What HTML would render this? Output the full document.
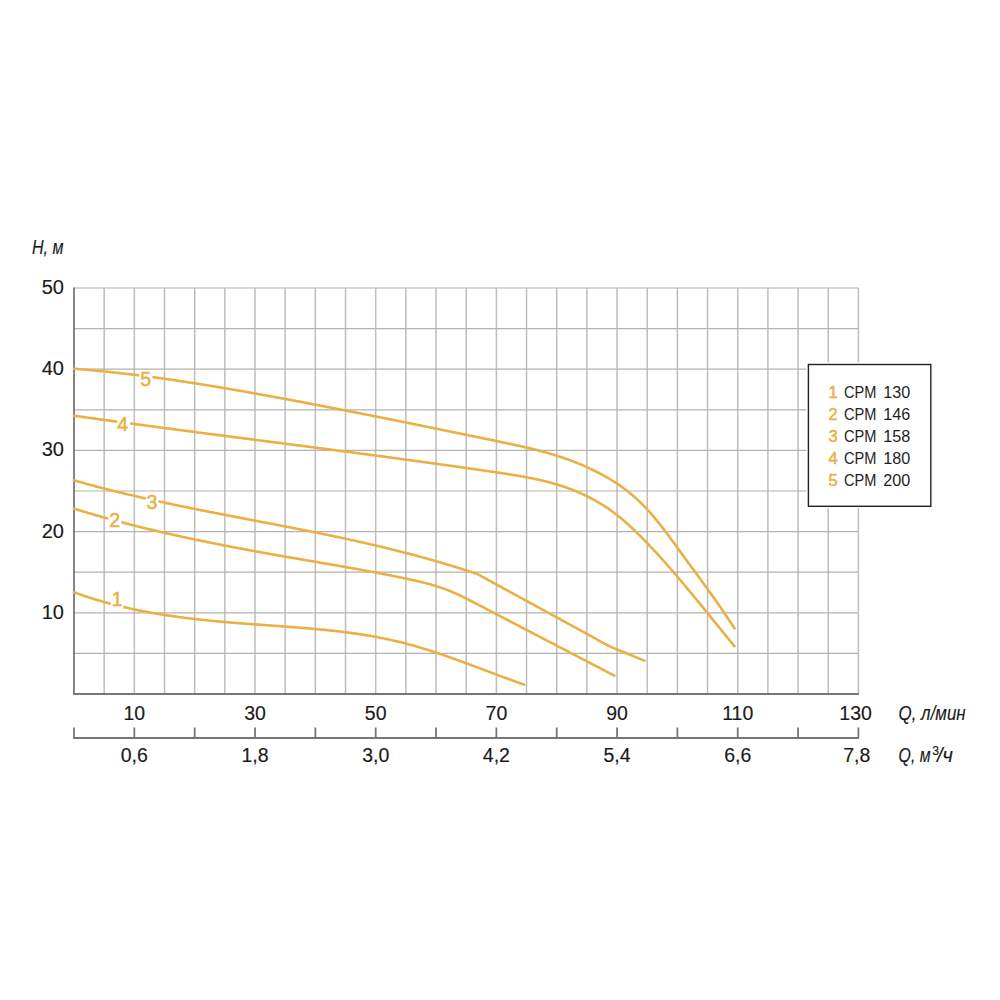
<!DOCTYPE html>
<html><head><meta charset="utf-8"><style>
html,body{margin:0;padding:0;background:#fff;}
svg{display:block;}
text{font-family:"Liberation Sans",Arial,sans-serif;fill:#1a1a1a;stroke:#1a1a1a;stroke-width:0.15px;}
.o{fill:#ebb045;stroke:#ebb045;stroke-width:0.55px;font-weight:normal;}
.lg text{stroke:none;fill:#1e1e1e;}
.lg text.o{fill:#ebb045;stroke:#ebb045;stroke-width:0.5px;}
</style></head><body>
<svg width="1000" height="1000" viewBox="0 0 1000 1000">
<rect width="1000" height="1000" fill="#fff"/>
<g stroke="#bdbdbd" stroke-width="1.5" fill="none">
<line x1="104.17" y1="288.0" x2="104.17" y2="694.0"/><line x1="134.34" y1="288.0" x2="134.34" y2="694.0"/><line x1="164.51" y1="288.0" x2="164.51" y2="694.0"/><line x1="194.68" y1="288.0" x2="194.68" y2="694.0"/><line x1="224.85" y1="288.0" x2="224.85" y2="694.0"/><line x1="255.02" y1="288.0" x2="255.02" y2="694.0"/><line x1="285.18" y1="288.0" x2="285.18" y2="694.0"/><line x1="315.35" y1="288.0" x2="315.35" y2="694.0"/><line x1="345.52" y1="288.0" x2="345.52" y2="694.0"/><line x1="375.69" y1="288.0" x2="375.69" y2="694.0"/><line x1="405.86" y1="288.0" x2="405.86" y2="694.0"/><line x1="436.03" y1="288.0" x2="436.03" y2="694.0"/><line x1="466.20" y1="288.0" x2="466.20" y2="694.0"/><line x1="496.37" y1="288.0" x2="496.37" y2="694.0"/><line x1="526.54" y1="288.0" x2="526.54" y2="694.0"/><line x1="556.71" y1="288.0" x2="556.71" y2="694.0"/><line x1="586.88" y1="288.0" x2="586.88" y2="694.0"/><line x1="617.05" y1="288.0" x2="617.05" y2="694.0"/><line x1="647.22" y1="288.0" x2="647.22" y2="694.0"/><line x1="677.38" y1="288.0" x2="677.38" y2="694.0"/><line x1="707.55" y1="288.0" x2="707.55" y2="694.0"/><line x1="737.72" y1="288.0" x2="737.72" y2="694.0"/><line x1="767.89" y1="288.0" x2="767.89" y2="694.0"/><line x1="798.06" y1="288.0" x2="798.06" y2="694.0"/><line x1="828.23" y1="288.0" x2="828.23" y2="694.0"/><line x1="858.40" y1="288.0" x2="858.40" y2="694.0"/>
</g>
<g stroke="#b2b2b2" stroke-width="1.2" fill="none">
<line x1="74.0" y1="653.40" x2="858.4" y2="653.40"/><line x1="74.0" y1="612.80" x2="858.4" y2="612.80"/><line x1="74.0" y1="572.20" x2="858.4" y2="572.20"/><line x1="74.0" y1="531.60" x2="858.4" y2="531.60"/><line x1="74.0" y1="491.00" x2="858.4" y2="491.00"/><line x1="74.0" y1="450.40" x2="858.4" y2="450.40"/><line x1="74.0" y1="409.80" x2="858.4" y2="409.80"/><line x1="74.0" y1="369.20" x2="858.4" y2="369.20"/><line x1="74.0" y1="328.60" x2="858.4" y2="328.60"/><line x1="74.0" y1="288.00" x2="858.4" y2="288.00"/>
</g>
<g stroke="#767676" stroke-width="1.8" fill="none">
<line x1="74.0" y1="287.5" x2="74.0" y2="694.9"/>
<line x1="73.1" y1="694.0" x2="858.9" y2="694.0"/>
<line x1="73.1" y1="738" x2="858.9" y2="738"/>
<line x1="74.00" y1="727.5" x2="74.00" y2="738"/><line x1="134.34" y1="727.5" x2="134.34" y2="738"/><line x1="194.68" y1="727.5" x2="194.68" y2="738"/><line x1="255.02" y1="727.5" x2="255.02" y2="738"/><line x1="315.35" y1="727.5" x2="315.35" y2="738"/><line x1="375.69" y1="727.5" x2="375.69" y2="738"/><line x1="436.03" y1="727.5" x2="436.03" y2="738"/><line x1="496.37" y1="727.5" x2="496.37" y2="738"/><line x1="556.71" y1="727.5" x2="556.71" y2="738"/><line x1="617.05" y1="727.5" x2="617.05" y2="738"/><line x1="677.38" y1="727.5" x2="677.38" y2="738"/><line x1="737.72" y1="727.5" x2="737.72" y2="738"/><line x1="798.06" y1="727.5" x2="798.06" y2="738"/><line x1="858.40" y1="727.5" x2="858.40" y2="738"/>
</g>
<g stroke="#ebb045" stroke-width="2.6" fill="none" stroke-linecap="round" stroke-linejoin="round">
<path d="M74.0,368.70 L75.0,368.78 L76.0,368.86 L77.0,368.94 L78.0,369.02 L79.0,369.10 L80.0,369.18 L81.0,369.27 L82.0,369.35 L83.0,369.43 L84.0,369.52 L85.0,369.61 L86.0,369.69 L87.0,369.78 L88.0,369.87 L89.0,369.96 L90.0,370.05 L91.0,370.14 L92.0,370.23 L93.0,370.32 L94.0,370.42 L95.0,370.51 L96.0,370.61 L97.0,370.70 L98.0,370.80 L99.0,370.90 L100.0,370.99 L101.0,371.09 L102.0,371.19 L103.0,371.29 L104.0,371.39 L105.0,371.50 L106.0,371.60 L107.0,371.70 L108.0,371.81 L109.0,371.91 L110.0,372.02 L111.0,372.12 L112.0,372.23 L113.0,372.34 L114.0,372.45 L115.0,372.56 L116.0,372.67 L117.0,372.78 L118.0,372.89 L119.0,373.00 L120.0,373.11 L121.0,373.23 L122.0,373.34 L123.0,373.45 L124.0,373.57 L125.0,373.69 L126.0,373.80 L127.0,373.92 L128.0,374.04 L129.0,374.16 L130.0,374.28 L131.0,374.40 L132.0,374.52 L133.0,374.64 L134.0,374.76 L135.0,374.89 L136.0,375.01 L137.0,375.13 L138.0,375.26 L139.0,375.38 L140.0,375.51 L141.0,375.64 L142.0,375.76 L143.0,375.89 L144.0,376.02 L145.0,376.15 L146.0,376.28 L147.0,376.41 L148.0,376.54 L149.0,376.67 L150.0,376.81 L151.0,376.94 L152.0,377.07 L153.0,377.21 L154.0,377.34 L155.0,377.48 L156.0,377.61 L157.0,377.75 L158.0,377.89 L159.0,378.02 L160.0,378.16 L161.0,378.30 L162.0,378.44 L163.0,378.58 L164.0,378.72 L165.0,378.86 L166.0,379.00 L167.0,379.15 L168.0,379.29 L169.0,379.43 L170.0,379.57 L171.0,379.72 L172.0,379.86 L173.0,380.01 L174.0,380.16 L175.0,380.30 L176.0,380.45 L177.0,380.60 L178.0,380.75 L179.0,380.89 L180.0,381.04 L181.0,381.19 L182.0,381.34 L183.0,381.49 L184.0,381.64 L185.0,381.80 L186.0,381.95 L187.0,382.10 L188.0,382.25 L189.0,382.41 L190.0,382.56 L191.0,382.72 L192.0,382.87 L193.0,383.03 L194.0,383.18 L195.0,383.34 L196.0,383.50 L197.0,383.65 L198.0,383.81 L199.0,383.97 L200.0,384.13 L201.0,384.29 L202.0,384.45 L203.0,384.61 L204.0,384.77 L205.0,384.93 L206.0,385.09 L207.0,385.25 L208.0,385.42 L209.0,385.58 L210.0,385.74 L211.0,385.91 L212.0,386.07 L213.0,386.23 L214.0,386.40 L215.0,386.56 L216.0,386.73 L217.0,386.90 L218.0,387.06 L219.0,387.23 L220.0,387.40 L221.0,387.56 L222.0,387.73 L223.0,387.90 L224.0,388.07 L225.0,388.24 L226.0,388.41 L227.0,388.58 L228.0,388.75 L229.0,388.92 L230.0,389.09 L231.0,389.26 L232.0,389.43 L233.0,389.60 L234.0,389.78 L235.0,389.95 L236.0,390.12 L237.0,390.29 L238.0,390.47 L239.0,390.64 L240.0,390.82 L241.0,390.99 L242.0,391.17 L243.0,391.34 L244.0,391.52 L245.0,391.69 L246.0,391.87 L247.0,392.05 L248.0,392.22 L249.0,392.40 L250.0,392.58 L251.0,392.75 L252.0,392.93 L253.0,393.11 L254.0,393.29 L255.0,393.47 L256.0,393.65 L257.0,393.83 L258.0,394.01 L259.0,394.19 L260.0,394.37 L261.0,394.55 L262.0,394.73 L263.0,394.91 L264.0,395.09 L265.0,395.27 L266.0,395.45 L267.0,395.64 L268.0,395.82 L269.0,396.00 L270.0,396.18 L271.0,396.37 L272.0,396.55 L273.0,396.73 L274.0,396.92 L275.0,397.10 L276.0,397.28 L277.0,397.47 L278.0,397.65 L279.0,397.84 L280.0,398.02 L281.0,398.21 L282.0,398.39 L283.0,398.58 L284.0,398.76 L285.0,398.95 L286.0,399.14 L287.0,399.32 L288.0,399.51 L289.0,399.69 L290.0,399.88 L291.0,400.07 L292.0,400.26 L293.0,400.44 L294.0,400.63 L295.0,400.82 L296.0,401.01 L297.0,401.19 L298.0,401.38 L299.0,401.57 L300.0,401.76 L301.0,401.95 L302.0,402.14 L303.0,402.32 L304.0,402.51 L305.0,402.70 L306.0,402.89 L307.0,403.08 L308.0,403.27 L309.0,403.46 L310.0,403.65 L311.0,403.84 L312.0,404.03 L313.0,404.22 L314.0,404.41 L315.0,404.61 L316.0,404.80 L317.0,404.99 L318.0,405.18 L319.0,405.37 L320.0,405.56 L321.0,405.75 L322.0,405.95 L323.0,406.14 L324.0,406.33 L325.0,406.52 L326.0,406.72 L327.0,406.91 L328.0,407.10 L329.0,407.29 L330.0,407.49 L331.0,407.68 L332.0,407.87 L333.0,408.07 L334.0,408.26 L335.0,408.46 L336.0,408.65 L337.0,408.84 L338.0,409.04 L339.0,409.23 L340.0,409.43 L341.0,409.62 L342.0,409.82 L343.0,410.01 L344.0,410.21 L345.0,410.40 L346.0,410.60 L347.0,410.79 L348.0,410.99 L349.0,411.19 L350.0,411.38 L351.0,411.58 L352.0,411.77 L353.0,411.97 L354.0,412.17 L355.0,412.36 L356.0,412.56 L357.0,412.76 L358.0,412.95 L359.0,413.15 L360.0,413.35 L361.0,413.55 L362.0,413.74 L363.0,413.94 L364.0,414.14 L365.0,414.34 L366.0,414.54 L367.0,414.73 L368.0,414.93 L369.0,415.13 L370.0,415.33 L371.0,415.53 L372.0,415.73 L373.0,415.92 L374.0,416.12 L375.0,416.32 L376.0,416.52 L377.0,416.72 L378.0,416.92 L379.0,417.12 L380.0,417.32 L381.0,417.52 L382.0,417.72 L383.0,417.92 L384.0,418.12 L385.0,418.32 L386.0,418.52 L387.0,418.72 L388.0,418.92 L389.0,419.12 L390.0,419.32 L391.0,419.52 L392.0,419.72 L393.0,419.92 L394.0,420.12 L395.0,420.32 L396.0,420.53 L397.0,420.73 L398.0,420.93 L399.0,421.13 L400.0,421.33 L401.0,421.53 L402.0,421.73 L403.0,421.94 L404.0,422.14 L405.0,422.34 L406.0,422.54 L407.0,422.74 L408.0,422.95 L409.0,423.15 L410.0,423.35 L411.0,423.55 L412.0,423.76 L413.0,423.96 L414.0,424.16 L415.0,424.36 L416.0,424.57 L417.0,424.77 L418.0,424.97 L419.0,425.17 L420.0,425.38 L421.0,425.58 L422.0,425.78 L423.0,425.99 L424.0,426.19 L425.0,426.39 L426.0,426.60 L427.0,426.80 L428.0,427.01 L429.0,427.21 L430.0,427.41 L431.0,427.62 L432.0,427.82 L433.0,428.02 L434.0,428.23 L435.0,428.43 L436.0,428.64 L437.0,428.84 L438.0,429.05 L439.0,429.25 L440.0,429.45 L441.0,429.66 L442.0,429.86 L443.0,430.07 L444.0,430.27 L445.0,430.48 L446.0,430.68 L447.0,430.89 L448.0,431.09 L449.0,431.30 L450.0,431.50 L451.0,431.71 L452.0,431.91 L453.0,432.12 L454.0,432.32 L455.0,432.53 L456.0,432.73 L457.0,432.94 L458.0,433.14 L459.0,433.35 L460.0,433.55 L461.0,433.76 L462.0,433.96 L463.0,434.17 L464.0,434.38 L465.0,434.58 L466.0,434.79 L467.0,434.99 L468.0,435.20 L469.0,435.40 L470.0,435.61 L471.0,435.82 L472.0,436.02 L473.0,436.23 L474.0,436.43 L475.0,436.64 L476.0,436.85 L477.0,437.05 L478.0,437.26 L479.0,437.46 L480.0,437.67 L481.0,437.88 L482.0,438.08 L483.0,438.29 L484.0,438.49 L485.0,438.70 L486.0,438.91 L487.0,439.11 L488.0,439.32 L489.0,439.52 L490.0,439.73 L491.0,439.94 L492.0,440.14 L493.0,440.35 L494.0,440.56 L495.0,440.76 L496.0,440.97 L497.0,441.18 L498.0,441.38 L499.0,441.59 L500.0,441.79 L501.0,442.00 L502.0,442.21 L503.0,442.42 L504.0,442.62 L505.0,442.83 L506.0,443.04 L507.0,443.25 L508.0,443.46 L509.0,443.67 L510.0,443.88 L511.0,444.10 L512.0,444.31 L513.0,444.52 L514.0,444.74 L515.0,444.96 L516.0,445.17 L517.0,445.39 L518.0,445.61 L519.0,445.83 L520.0,446.05 L521.0,446.28 L522.0,446.50 L523.0,446.73 L524.0,446.96 L525.0,447.19 L526.0,447.42 L527.0,447.66 L528.0,447.89 L529.0,448.13 L530.0,448.37 L531.0,448.61 L532.0,448.85 L533.0,449.10 L534.0,449.35 L535.0,449.60 L536.0,449.85 L537.0,450.10 L538.0,450.36 L539.0,450.62 L540.0,450.88 L541.0,451.15 L542.0,451.41 L543.0,451.68 L544.0,451.96 L545.0,452.23 L546.0,452.51 L547.0,452.79 L548.0,453.08 L549.0,453.37 L550.0,453.66 L551.0,453.95 L552.0,454.25 L553.0,454.55 L554.0,454.85 L555.0,455.16 L556.0,455.47 L557.0,455.79 L558.0,456.11 L559.0,456.43 L560.0,456.75 L561.0,457.08 L562.0,457.42 L563.0,457.75 L564.0,458.10 L565.0,458.44 L566.0,458.79 L567.0,459.14 L568.0,459.50 L569.0,459.86 L570.0,460.23 L571.0,460.60 L572.0,460.98 L573.0,461.36 L574.0,461.74 L575.0,462.13 L576.0,462.52 L577.0,462.92 L578.0,463.33 L579.0,463.74 L580.0,464.15 L581.0,464.57 L582.0,464.99 L583.0,465.42 L584.0,465.85 L585.0,466.29 L586.0,466.73 L587.0,467.18 L588.0,467.64 L589.0,468.10 L590.0,468.57 L591.0,469.04 L592.0,469.51 L593.0,470.00 L594.0,470.48 L595.0,470.98 L596.0,471.48 L597.0,471.99 L598.0,472.50 L599.0,473.02 L600.0,473.54 L601.0,474.07 L602.0,474.61 L603.0,475.15 L604.0,475.70 L605.0,476.26 L606.0,476.82 L607.0,477.40 L608.0,477.98 L609.0,478.56 L610.0,479.16 L611.0,479.76 L612.0,480.38 L613.0,481.00 L614.0,481.63 L615.0,482.27 L616.0,482.92 L617.0,483.58 L618.0,484.25 L619.0,484.93 L620.0,485.62 L621.0,486.32 L622.0,487.04 L623.0,487.76 L624.0,488.50 L625.0,489.24 L626.0,490.00 L627.0,490.78 L628.0,491.56 L629.0,492.36 L630.0,493.17 L631.0,493.99 L632.0,494.83 L633.0,495.68 L634.0,496.55 L635.0,497.43 L636.0,498.32 L637.0,499.23 L638.0,500.16 L639.0,501.10 L640.0,502.05 L641.0,503.02 L642.0,504.01 L643.0,505.01 L644.0,506.03 L645.0,507.07 L646.0,508.12 L647.0,509.19 L648.0,510.28 L649.0,511.38 L650.0,512.50 L651.0,513.64 L652.0,514.79 L653.0,515.96 L654.0,517.14 L655.0,518.34 L656.0,519.55 L657.0,520.77 L658.0,522.00 L659.0,523.25 L660.0,524.50 L661.0,525.77 L662.0,527.05 L663.0,528.34 L664.0,529.64 L665.0,530.94 L666.0,532.26 L667.0,533.58 L668.0,534.91 L669.0,536.25 L670.0,537.59 L671.0,538.94 L672.0,540.30 L673.0,541.66 L674.0,543.02 L675.0,544.39 L676.0,545.76 L677.0,547.13 L678.0,548.51 L679.0,549.89 L680.0,551.27 L681.0,552.65 L682.0,554.03 L683.0,555.41 L684.0,556.79 L685.0,558.17 L686.0,559.55 L687.0,560.93 L688.0,562.30 L689.0,563.67 L690.0,565.04 L691.0,566.41 L692.0,567.77 L693.0,569.14 L694.0,570.50 L695.0,571.87 L696.0,573.23 L697.0,574.60 L698.0,575.96 L699.0,577.33 L700.0,578.69 L701.0,580.06 L702.0,581.43 L703.0,582.80 L704.0,584.17 L705.0,585.55 L706.0,586.92 L707.0,588.30 L708.0,589.69 L709.0,591.07 L710.0,592.46 L711.0,593.86 L712.0,595.26 L713.0,596.66 L714.0,598.07 L715.0,599.48 L716.0,600.90 L717.0,602.32 L718.0,603.75 L719.0,605.18 L720.0,606.62 L721.0,608.07 L722.0,609.53 L723.0,610.99 L724.0,612.46 L725.0,613.94 L726.0,615.42 L727.0,616.92 L728.0,618.42 L729.0,619.93 L730.0,621.45 L731.0,622.98 L732.0,624.52 L733.0,626.07 L734.0,627.63 L734.5,628.41"/><path d="M74.0,415.75 L75.0,415.89 L76.0,416.03 L77.0,416.17 L78.0,416.31 L79.0,416.45 L80.0,416.58 L81.0,416.72 L82.0,416.86 L83.0,417.00 L84.0,417.14 L85.0,417.28 L86.0,417.42 L87.0,417.56 L88.0,417.70 L89.0,417.84 L90.0,417.97 L91.0,418.11 L92.0,418.25 L93.0,418.39 L94.0,418.53 L95.0,418.66 L96.0,418.80 L97.0,418.94 L98.0,419.08 L99.0,419.21 L100.0,419.35 L101.0,419.49 L102.0,419.63 L103.0,419.76 L104.0,419.90 L105.0,420.04 L106.0,420.17 L107.0,420.31 L108.0,420.45 L109.0,420.58 L110.0,420.72 L111.0,420.86 L112.0,420.99 L113.0,421.13 L114.0,421.26 L115.0,421.40 L116.0,421.54 L117.0,421.67 L118.0,421.81 L119.0,421.94 L120.0,422.08 L121.0,422.21 L122.0,422.35 L123.0,422.48 L124.0,422.62 L125.0,422.75 L126.0,422.89 L127.0,423.02 L128.0,423.16 L129.0,423.29 L130.0,423.43 L131.0,423.56 L132.0,423.70 L133.0,423.83 L134.0,423.96 L135.0,424.10 L136.0,424.23 L137.0,424.37 L138.0,424.50 L139.0,424.63 L140.0,424.77 L141.0,424.90 L142.0,425.03 L143.0,425.17 L144.0,425.30 L145.0,425.44 L146.0,425.57 L147.0,425.70 L148.0,425.83 L149.0,425.97 L150.0,426.10 L151.0,426.23 L152.0,426.37 L153.0,426.50 L154.0,426.63 L155.0,426.76 L156.0,426.90 L157.0,427.03 L158.0,427.16 L159.0,427.29 L160.0,427.43 L161.0,427.56 L162.0,427.69 L163.0,427.82 L164.0,427.96 L165.0,428.09 L166.0,428.22 L167.0,428.35 L168.0,428.48 L169.0,428.62 L170.0,428.75 L171.0,428.88 L172.0,429.01 L173.0,429.14 L174.0,429.27 L175.0,429.41 L176.0,429.54 L177.0,429.67 L178.0,429.80 L179.0,429.93 L180.0,430.06 L181.0,430.19 L182.0,430.32 L183.0,430.45 L184.0,430.59 L185.0,430.72 L186.0,430.85 L187.0,430.98 L188.0,431.11 L189.0,431.24 L190.0,431.37 L191.0,431.50 L192.0,431.63 L193.0,431.76 L194.0,431.89 L195.0,432.02 L196.0,432.15 L197.0,432.28 L198.0,432.42 L199.0,432.55 L200.0,432.68 L201.0,432.81 L202.0,432.94 L203.0,433.07 L204.0,433.20 L205.0,433.33 L206.0,433.46 L207.0,433.59 L208.0,433.72 L209.0,433.85 L210.0,433.98 L211.0,434.11 L212.0,434.24 L213.0,434.37 L214.0,434.50 L215.0,434.63 L216.0,434.76 L217.0,434.89 L218.0,435.02 L219.0,435.14 L220.0,435.27 L221.0,435.40 L222.0,435.53 L223.0,435.66 L224.0,435.79 L225.0,435.92 L226.0,436.05 L227.0,436.18 L228.0,436.31 L229.0,436.44 L230.0,436.57 L231.0,436.70 L232.0,436.83 L233.0,436.96 L234.0,437.09 L235.0,437.22 L236.0,437.35 L237.0,437.48 L238.0,437.60 L239.0,437.73 L240.0,437.86 L241.0,437.99 L242.0,438.12 L243.0,438.25 L244.0,438.38 L245.0,438.51 L246.0,438.64 L247.0,438.77 L248.0,438.90 L249.0,439.03 L250.0,439.16 L251.0,439.28 L252.0,439.41 L253.0,439.54 L254.0,439.67 L255.0,439.80 L256.0,439.93 L257.0,440.06 L258.0,440.19 L259.0,440.32 L260.0,440.45 L261.0,440.58 L262.0,440.71 L263.0,440.83 L264.0,440.96 L265.0,441.09 L266.0,441.22 L267.0,441.35 L268.0,441.48 L269.0,441.61 L270.0,441.74 L271.0,441.87 L272.0,442.00 L273.0,442.13 L274.0,442.26 L275.0,442.38 L276.0,442.51 L277.0,442.64 L278.0,442.77 L279.0,442.90 L280.0,443.03 L281.0,443.16 L282.0,443.29 L283.0,443.42 L284.0,443.55 L285.0,443.68 L286.0,443.81 L287.0,443.94 L288.0,444.07 L289.0,444.19 L290.0,444.32 L291.0,444.45 L292.0,444.58 L293.0,444.71 L294.0,444.84 L295.0,444.97 L296.0,445.10 L297.0,445.23 L298.0,445.36 L299.0,445.49 L300.0,445.62 L301.0,445.75 L302.0,445.88 L303.0,446.01 L304.0,446.14 L305.0,446.27 L306.0,446.40 L307.0,446.53 L308.0,446.66 L309.0,446.79 L310.0,446.92 L311.0,447.05 L312.0,447.18 L313.0,447.31 L314.0,447.44 L315.0,447.57 L316.0,447.70 L317.0,447.83 L318.0,447.96 L319.0,448.09 L320.0,448.22 L321.0,448.35 L322.0,448.48 L323.0,448.61 L324.0,448.74 L325.0,448.87 L326.0,449.00 L327.0,449.13 L328.0,449.26 L329.0,449.39 L330.0,449.52 L331.0,449.65 L332.0,449.79 L333.0,449.92 L334.0,450.05 L335.0,450.18 L336.0,450.31 L337.0,450.44 L338.0,450.57 L339.0,450.70 L340.0,450.83 L341.0,450.96 L342.0,451.10 L343.0,451.23 L344.0,451.36 L345.0,451.49 L346.0,451.62 L347.0,451.75 L348.0,451.88 L349.0,452.02 L350.0,452.15 L351.0,452.28 L352.0,452.41 L353.0,452.54 L354.0,452.68 L355.0,452.81 L356.0,452.94 L357.0,453.07 L358.0,453.20 L359.0,453.34 L360.0,453.47 L361.0,453.60 L362.0,453.73 L363.0,453.87 L364.0,454.00 L365.0,454.13 L366.0,454.26 L367.0,454.40 L368.0,454.53 L369.0,454.66 L370.0,454.79 L371.0,454.93 L372.0,455.06 L373.0,455.19 L374.0,455.33 L375.0,455.46 L376.0,455.59 L377.0,455.73 L378.0,455.86 L379.0,455.99 L380.0,456.13 L381.0,456.26 L382.0,456.40 L383.0,456.53 L384.0,456.66 L385.0,456.80 L386.0,456.93 L387.0,457.07 L388.0,457.20 L389.0,457.34 L390.0,457.47 L391.0,457.60 L392.0,457.74 L393.0,457.87 L394.0,458.01 L395.0,458.14 L396.0,458.28 L397.0,458.41 L398.0,458.55 L399.0,458.68 L400.0,458.82 L401.0,458.95 L402.0,459.09 L403.0,459.23 L404.0,459.36 L405.0,459.50 L406.0,459.63 L407.0,459.77 L408.0,459.91 L409.0,460.04 L410.0,460.18 L411.0,460.31 L412.0,460.45 L413.0,460.59 L414.0,460.72 L415.0,460.86 L416.0,461.00 L417.0,461.13 L418.0,461.27 L419.0,461.41 L420.0,461.55 L421.0,461.68 L422.0,461.82 L423.0,461.96 L424.0,462.10 L425.0,462.23 L426.0,462.37 L427.0,462.51 L428.0,462.65 L429.0,462.79 L430.0,462.92 L431.0,463.06 L432.0,463.20 L433.0,463.34 L434.0,463.48 L435.0,463.62 L436.0,463.76 L437.0,463.90 L438.0,464.03 L439.0,464.17 L440.0,464.31 L441.0,464.45 L442.0,464.59 L443.0,464.73 L444.0,464.87 L445.0,465.01 L446.0,465.15 L447.0,465.29 L448.0,465.43 L449.0,465.57 L450.0,465.71 L451.0,465.85 L452.0,466.00 L453.0,466.14 L454.0,466.28 L455.0,466.42 L456.0,466.56 L457.0,466.70 L458.0,466.84 L459.0,466.98 L460.0,467.13 L461.0,467.27 L462.0,467.41 L463.0,467.55 L464.0,467.69 L465.0,467.84 L466.0,467.98 L467.0,468.12 L468.0,468.27 L469.0,468.41 L470.0,468.55 L471.0,468.69 L472.0,468.84 L473.0,468.98 L474.0,469.13 L475.0,469.27 L476.0,469.41 L477.0,469.56 L478.0,469.70 L479.0,469.85 L480.0,469.99 L481.0,470.13 L482.0,470.28 L483.0,470.42 L484.0,470.57 L485.0,470.71 L486.0,470.86 L487.0,471.01 L488.0,471.15 L489.0,471.30 L490.0,471.44 L491.0,471.59 L492.0,471.74 L493.0,471.88 L494.0,472.03 L495.0,472.17 L496.0,472.32 L497.0,472.47 L498.0,472.62 L499.0,472.76 L500.0,472.91 L501.0,473.06 L502.0,473.21 L503.0,473.36 L504.0,473.51 L505.0,473.66 L506.0,473.81 L507.0,473.96 L508.0,474.12 L509.0,474.27 L510.0,474.43 L511.0,474.58 L512.0,474.74 L513.0,474.90 L514.0,475.06 L515.0,475.23 L516.0,475.39 L517.0,475.56 L518.0,475.72 L519.0,475.89 L520.0,476.07 L521.0,476.24 L522.0,476.42 L523.0,476.59 L524.0,476.77 L525.0,476.96 L526.0,477.14 L527.0,477.33 L528.0,477.52 L529.0,477.71 L530.0,477.91 L531.0,478.11 L532.0,478.31 L533.0,478.51 L534.0,478.72 L535.0,478.93 L536.0,479.15 L537.0,479.36 L538.0,479.58 L539.0,479.81 L540.0,480.04 L541.0,480.27 L542.0,480.50 L543.0,480.74 L544.0,480.99 L545.0,481.23 L546.0,481.48 L547.0,481.74 L548.0,482.00 L549.0,482.26 L550.0,482.53 L551.0,482.80 L552.0,483.08 L553.0,483.36 L554.0,483.65 L555.0,483.94 L556.0,484.23 L557.0,484.53 L558.0,484.84 L559.0,485.15 L560.0,485.46 L561.0,485.79 L562.0,486.11 L563.0,486.44 L564.0,486.78 L565.0,487.12 L566.0,487.47 L567.0,487.83 L568.0,488.19 L569.0,488.55 L570.0,488.93 L571.0,489.30 L572.0,489.69 L573.0,490.08 L574.0,490.48 L575.0,490.88 L576.0,491.29 L577.0,491.70 L578.0,492.13 L579.0,492.56 L580.0,492.99 L581.0,493.43 L582.0,493.88 L583.0,494.34 L584.0,494.80 L585.0,495.28 L586.0,495.75 L587.0,496.24 L588.0,496.73 L589.0,497.23 L590.0,497.74 L591.0,498.26 L592.0,498.78 L593.0,499.32 L594.0,499.86 L595.0,500.41 L596.0,500.97 L597.0,501.53 L598.0,502.11 L599.0,502.70 L600.0,503.29 L601.0,503.90 L602.0,504.51 L603.0,505.13 L604.0,505.77 L605.0,506.41 L606.0,507.07 L607.0,507.74 L608.0,508.41 L609.0,509.10 L610.0,509.80 L611.0,510.51 L612.0,511.23 L613.0,511.96 L614.0,512.71 L615.0,513.47 L616.0,514.23 L617.0,515.02 L618.0,515.81 L619.0,516.61 L620.0,517.43 L621.0,518.26 L622.0,519.10 L623.0,519.95 L624.0,520.81 L625.0,521.69 L626.0,522.57 L627.0,523.46 L628.0,524.36 L629.0,525.27 L630.0,526.19 L631.0,527.11 L632.0,528.05 L633.0,528.99 L634.0,529.94 L635.0,530.90 L636.0,531.86 L637.0,532.83 L638.0,533.81 L639.0,534.79 L640.0,535.78 L641.0,536.78 L642.0,537.78 L643.0,538.79 L644.0,539.81 L645.0,540.83 L646.0,541.86 L647.0,542.89 L648.0,543.93 L649.0,544.98 L650.0,546.03 L651.0,547.09 L652.0,548.15 L653.0,549.22 L654.0,550.29 L655.0,551.37 L656.0,552.45 L657.0,553.54 L658.0,554.63 L659.0,555.73 L660.0,556.83 L661.0,557.94 L662.0,559.05 L663.0,560.17 L664.0,561.29 L665.0,562.42 L666.0,563.55 L667.0,564.68 L668.0,565.82 L669.0,566.96 L670.0,568.11 L671.0,569.26 L672.0,570.42 L673.0,571.57 L674.0,572.73 L675.0,573.90 L676.0,575.07 L677.0,576.24 L678.0,577.41 L679.0,578.59 L680.0,579.77 L681.0,580.95 L682.0,582.14 L683.0,583.33 L684.0,584.52 L685.0,585.72 L686.0,586.91 L687.0,588.11 L688.0,589.31 L689.0,590.52 L690.0,591.72 L691.0,592.93 L692.0,594.14 L693.0,595.35 L694.0,596.57 L695.0,597.78 L696.0,599.00 L697.0,600.22 L698.0,601.44 L699.0,602.66 L700.0,603.88 L701.0,605.11 L702.0,606.33 L703.0,607.56 L704.0,608.79 L705.0,610.01 L706.0,611.24 L707.0,612.47 L708.0,613.70 L709.0,614.93 L710.0,616.16 L711.0,617.39 L712.0,618.62 L713.0,619.86 L714.0,621.09 L715.0,622.32 L716.0,623.55 L717.0,624.78 L718.0,626.01 L719.0,627.24 L720.0,628.47 L721.0,629.70 L722.0,630.93 L723.0,632.16 L724.0,633.38 L725.0,634.61 L726.0,635.83 L727.0,637.06 L728.0,638.28 L729.0,639.50 L730.0,640.72 L731.0,641.94 L732.0,643.16 L733.0,644.37 L734.0,645.58 L734.5,646.19"/><path d="M74.0,480.33 L75.0,480.62 L76.0,480.90 L77.0,481.19 L78.0,481.47 L79.0,481.75 L80.0,482.03 L81.0,482.31 L82.0,482.59 L83.0,482.87 L84.0,483.14 L85.0,483.42 L86.0,483.69 L87.0,483.97 L88.0,484.24 L89.0,484.51 L90.0,484.78 L91.0,485.05 L92.0,485.32 L93.0,485.59 L94.0,485.85 L95.0,486.12 L96.0,486.38 L97.0,486.65 L98.0,486.91 L99.0,487.17 L100.0,487.43 L101.0,487.69 L102.0,487.95 L103.0,488.21 L104.0,488.47 L105.0,488.73 L106.0,488.98 L107.0,489.24 L108.0,489.49 L109.0,489.74 L110.0,490.00 L111.0,490.25 L112.0,490.50 L113.0,490.75 L114.0,491.00 L115.0,491.24 L116.0,491.49 L117.0,491.74 L118.0,491.98 L119.0,492.23 L120.0,492.47 L121.0,492.72 L122.0,492.96 L123.0,493.20 L124.0,493.44 L125.0,493.68 L126.0,493.92 L127.0,494.16 L128.0,494.40 L129.0,494.64 L130.0,494.87 L131.0,495.11 L132.0,495.34 L133.0,495.58 L134.0,495.81 L135.0,496.05 L136.0,496.28 L137.0,496.51 L138.0,496.74 L139.0,496.97 L140.0,497.20 L141.0,497.43 L142.0,497.66 L143.0,497.89 L144.0,498.11 L145.0,498.34 L146.0,498.56 L147.0,498.79 L148.0,499.01 L149.0,499.24 L150.0,499.46 L151.0,499.68 L152.0,499.91 L153.0,500.13 L154.0,500.35 L155.0,500.57 L156.0,500.79 L157.0,501.01 L158.0,501.23 L159.0,501.44 L160.0,501.66 L161.0,501.88 L162.0,502.09 L163.0,502.31 L164.0,502.52 L165.0,502.74 L166.0,502.95 L167.0,503.17 L168.0,503.38 L169.0,503.59 L170.0,503.81 L171.0,504.02 L172.0,504.23 L173.0,504.44 L174.0,504.65 L175.0,504.86 L176.0,505.07 L177.0,505.28 L178.0,505.49 L179.0,505.69 L180.0,505.90 L181.0,506.11 L182.0,506.31 L183.0,506.52 L184.0,506.73 L185.0,506.93 L186.0,507.14 L187.0,507.34 L188.0,507.55 L189.0,507.75 L190.0,507.95 L191.0,508.16 L192.0,508.36 L193.0,508.56 L194.0,508.76 L195.0,508.96 L196.0,509.17 L197.0,509.37 L198.0,509.57 L199.0,509.77 L200.0,509.97 L201.0,510.17 L202.0,510.37 L203.0,510.57 L204.0,510.76 L205.0,510.96 L206.0,511.16 L207.0,511.36 L208.0,511.56 L209.0,511.75 L210.0,511.95 L211.0,512.15 L212.0,512.34 L213.0,512.54 L214.0,512.74 L215.0,512.93 L216.0,513.13 L217.0,513.32 L218.0,513.52 L219.0,513.71 L220.0,513.91 L221.0,514.10 L222.0,514.30 L223.0,514.49 L224.0,514.69 L225.0,514.88 L226.0,515.07 L227.0,515.27 L228.0,515.46 L229.0,515.65 L230.0,515.85 L231.0,516.04 L232.0,516.23 L233.0,516.42 L234.0,516.62 L235.0,516.81 L236.0,517.00 L237.0,517.19 L238.0,517.39 L239.0,517.58 L240.0,517.77 L241.0,517.96 L242.0,518.15 L243.0,518.35 L244.0,518.54 L245.0,518.73 L246.0,518.92 L247.0,519.11 L248.0,519.30 L249.0,519.49 L250.0,519.69 L251.0,519.88 L252.0,520.07 L253.0,520.26 L254.0,520.45 L255.0,520.64 L256.0,520.83 L257.0,521.03 L258.0,521.22 L259.0,521.41 L260.0,521.60 L261.0,521.79 L262.0,521.98 L263.0,522.17 L264.0,522.37 L265.0,522.56 L266.0,522.75 L267.0,522.94 L268.0,523.13 L269.0,523.32 L270.0,523.52 L271.0,523.71 L272.0,523.90 L273.0,524.09 L274.0,524.29 L275.0,524.48 L276.0,524.67 L277.0,524.86 L278.0,525.06 L279.0,525.25 L280.0,525.44 L281.0,525.64 L282.0,525.83 L283.0,526.02 L284.0,526.22 L285.0,526.41 L286.0,526.61 L287.0,526.80 L288.0,526.99 L289.0,527.19 L290.0,527.38 L291.0,527.58 L292.0,527.77 L293.0,527.97 L294.0,528.17 L295.0,528.36 L296.0,528.56 L297.0,528.76 L298.0,528.95 L299.0,529.15 L300.0,529.35 L301.0,529.54 L302.0,529.74 L303.0,529.94 L304.0,530.14 L305.0,530.34 L306.0,530.54 L307.0,530.74 L308.0,530.94 L309.0,531.14 L310.0,531.34 L311.0,531.54 L312.0,531.74 L313.0,531.94 L314.0,532.14 L315.0,532.34 L316.0,532.55 L317.0,532.75 L318.0,532.95 L319.0,533.16 L320.0,533.36 L321.0,533.56 L322.0,533.77 L323.0,533.97 L324.0,534.18 L325.0,534.39 L326.0,534.59 L327.0,534.80 L328.0,535.01 L329.0,535.21 L330.0,535.42 L331.0,535.63 L332.0,535.84 L333.0,536.05 L334.0,536.26 L335.0,536.47 L336.0,536.68 L337.0,536.89 L338.0,537.10 L339.0,537.31 L340.0,537.53 L341.0,537.74 L342.0,537.95 L343.0,538.17 L344.0,538.38 L345.0,538.60 L346.0,538.81 L347.0,539.03 L348.0,539.25 L349.0,539.47 L350.0,539.68 L351.0,539.90 L352.0,540.12 L353.0,540.34 L354.0,540.56 L355.0,540.78 L356.0,541.00 L357.0,541.23 L358.0,541.45 L359.0,541.67 L360.0,541.90 L361.0,542.12 L362.0,542.35 L363.0,542.57 L364.0,542.80 L365.0,543.03 L366.0,543.25 L367.0,543.48 L368.0,543.71 L369.0,543.94 L370.0,544.17 L371.0,544.40 L372.0,544.63 L373.0,544.87 L374.0,545.10 L375.0,545.33 L376.0,545.57 L377.0,545.80 L378.0,546.04 L379.0,546.28 L380.0,546.52 L381.0,546.75 L382.0,546.99 L383.0,547.23 L384.0,547.47 L385.0,547.71 L386.0,547.96 L387.0,548.20 L388.0,548.44 L389.0,548.69 L390.0,548.93 L391.0,549.18 L392.0,549.42 L393.0,549.67 L394.0,549.92 L395.0,550.17 L396.0,550.42 L397.0,550.67 L398.0,550.92 L399.0,551.18 L400.0,551.43 L401.0,551.68 L402.0,551.94 L403.0,552.19 L404.0,552.45 L405.0,552.71 L406.0,552.97 L407.0,553.23 L408.0,553.49 L409.0,553.75 L410.0,554.01 L411.0,554.27 L412.0,554.54 L413.0,554.80 L414.0,555.07 L415.0,555.34 L416.0,555.60 L417.0,555.87 L418.0,556.14 L419.0,556.41 L420.0,556.69 L421.0,556.96 L422.0,557.23 L423.0,557.51 L424.0,557.78 L425.0,558.06 L426.0,558.34 L427.0,558.61 L428.0,558.89 L429.0,559.17 L430.0,559.46 L431.0,559.74 L432.0,560.02 L433.0,560.31 L434.0,560.59 L435.0,560.88 L436.0,561.17 L437.0,561.46 L438.0,561.75 L439.0,562.04 L440.0,562.33 L441.0,562.62 L442.0,562.92 L443.0,563.21 L444.0,563.51 L445.0,563.81 L446.0,564.11 L447.0,564.41 L448.0,564.71 L449.0,565.01 L450.0,565.31 L451.0,565.62 L452.0,565.92 L453.0,566.23 L454.0,566.54 L455.0,566.85 L456.0,567.16 L457.0,567.47 L458.0,567.78 L459.0,568.10 L460.0,568.41 L461.0,568.73 L462.0,569.05 L463.0,569.36 L464.0,569.69 L465.0,570.01 L466.0,570.33 L467.0,570.65 L468.0,570.98 L469.0,571.30 L470.0,571.63 L471.0,571.96 L472.0,572.29 L473.0,572.62 L474.0,572.92 L475.0,573.21 L476.0,573.53 L477.0,573.90 L478.0,574.33 L479.0,574.82 L480.0,575.37 L481.0,575.95 L482.0,576.54 L483.0,577.09 L484.0,577.64 L485.0,578.19 L486.0,578.73 L487.0,579.28 L488.0,579.83 L489.0,580.38 L490.0,580.92 L491.0,581.47 L492.0,582.02 L493.0,582.56 L494.0,583.11 L495.0,583.66 L496.0,584.20 L497.0,584.75 L498.0,585.30 L499.0,585.84 L500.0,586.39 L501.0,586.94 L502.0,587.48 L503.0,588.03 L504.0,588.58 L505.0,589.12 L506.0,589.67 L507.0,590.22 L508.0,590.77 L509.0,591.31 L510.0,591.86 L511.0,592.41 L512.0,592.95 L513.0,593.50 L514.0,594.05 L515.0,594.59 L516.0,595.14 L517.0,595.69 L518.0,596.23 L519.0,596.78 L520.0,597.33 L521.0,597.87 L522.0,598.42 L523.0,598.97 L524.0,599.51 L525.0,600.06 L526.0,600.61 L527.0,601.16 L528.0,601.70 L529.0,602.25 L530.0,602.80 L531.0,603.34 L532.0,603.89 L533.0,604.44 L534.0,604.98 L535.0,605.53 L536.0,606.08 L537.0,606.62 L538.0,607.17 L539.0,607.72 L540.0,608.26 L541.0,608.81 L542.0,609.36 L543.0,609.90 L544.0,610.45 L545.0,611.00 L546.0,611.54 L547.0,612.09 L548.0,612.64 L549.0,613.19 L550.0,613.73 L551.0,614.28 L552.0,614.83 L553.0,615.37 L554.0,615.92 L555.0,616.47 L556.0,617.01 L557.0,617.56 L558.0,618.11 L559.0,618.65 L560.0,619.20 L561.0,619.75 L562.0,620.29 L563.0,620.84 L564.0,621.39 L565.0,621.93 L566.0,622.48 L567.0,623.03 L568.0,623.58 L569.0,624.12 L570.0,624.67 L571.0,625.22 L572.0,625.76 L573.0,626.31 L574.0,626.86 L575.0,627.40 L576.0,627.95 L577.0,628.50 L578.0,629.04 L579.0,629.59 L580.0,630.14 L581.0,630.68 L582.0,631.23 L583.0,631.78 L584.0,632.32 L585.0,632.87 L586.0,633.42 L587.0,633.97 L588.0,634.51 L589.0,635.06 L590.0,635.61 L591.0,636.15 L592.0,636.70 L593.0,637.25 L594.0,637.80 L595.0,638.37 L596.0,638.94 L597.0,639.51 L598.0,640.08 L599.0,640.66 L600.0,641.23 L601.0,641.79 L602.0,642.35 L603.0,642.90 L604.0,643.44 L605.0,643.96 L606.0,644.48 L607.0,644.99 L608.0,645.49 L609.0,645.97 L610.0,646.44 L611.0,646.90 L612.0,647.35 L613.0,647.78 L614.0,648.21 L615.0,648.62 L616.0,649.03 L617.0,649.43 L618.0,649.83 L619.0,650.22 L620.0,650.61 L621.0,651.00 L622.0,651.40 L623.0,651.79 L624.0,652.20 L625.0,652.61 L626.0,653.03 L627.0,653.45 L628.0,653.86 L629.0,654.28 L630.0,654.70 L631.0,655.11 L632.0,655.53 L633.0,655.95 L634.0,656.36 L635.0,656.78 L636.0,657.20 L637.0,657.61 L638.0,658.03 L639.0,658.45 L640.0,658.87 L641.0,659.28 L642.0,659.70 L643.0,660.12 L644.0,660.53 L644.4,660.70"/><path d="M74.0,508.67 L75.0,508.98 L76.0,509.29 L77.0,509.59 L78.0,509.90 L79.0,510.20 L80.0,510.50 L81.0,510.81 L82.0,511.11 L83.0,511.41 L84.0,511.71 L85.0,512.00 L86.0,512.30 L87.0,512.60 L88.0,512.89 L89.0,513.18 L90.0,513.48 L91.0,513.77 L92.0,514.06 L93.0,514.35 L94.0,514.64 L95.0,514.93 L96.0,515.21 L97.0,515.50 L98.0,515.78 L99.0,516.07 L100.0,516.35 L101.0,516.63 L102.0,516.91 L103.0,517.19 L104.0,517.47 L105.0,517.75 L106.0,518.03 L107.0,518.31 L108.0,518.58 L109.0,518.86 L110.0,519.13 L111.0,519.40 L112.0,519.68 L113.0,519.95 L114.0,520.22 L115.0,520.49 L116.0,520.76 L117.0,521.02 L118.0,521.29 L119.0,521.56 L120.0,521.82 L121.0,522.08 L122.0,522.35 L123.0,522.61 L124.0,522.87 L125.0,523.13 L126.0,523.39 L127.0,523.65 L128.0,523.91 L129.0,524.17 L130.0,524.42 L131.0,524.68 L132.0,524.93 L133.0,525.19 L134.0,525.44 L135.0,525.69 L136.0,525.95 L137.0,526.20 L138.0,526.45 L139.0,526.70 L140.0,526.94 L141.0,527.19 L142.0,527.44 L143.0,527.68 L144.0,527.93 L145.0,528.17 L146.0,528.42 L147.0,528.66 L148.0,528.90 L149.0,529.14 L150.0,529.39 L151.0,529.63 L152.0,529.86 L153.0,530.10 L154.0,530.34 L155.0,530.58 L156.0,530.81 L157.0,531.05 L158.0,531.28 L159.0,531.52 L160.0,531.75 L161.0,531.98 L162.0,532.22 L163.0,532.45 L164.0,532.68 L165.0,532.91 L166.0,533.14 L167.0,533.37 L168.0,533.59 L169.0,533.82 L170.0,534.05 L171.0,534.27 L172.0,534.50 L173.0,534.72 L174.0,534.95 L175.0,535.17 L176.0,535.39 L177.0,535.61 L178.0,535.83 L179.0,536.06 L180.0,536.28 L181.0,536.49 L182.0,536.71 L183.0,536.93 L184.0,537.15 L185.0,537.37 L186.0,537.58 L187.0,537.80 L188.0,538.01 L189.0,538.23 L190.0,538.44 L191.0,538.65 L192.0,538.87 L193.0,539.08 L194.0,539.29 L195.0,539.50 L196.0,539.71 L197.0,539.92 L198.0,540.13 L199.0,540.34 L200.0,540.54 L201.0,540.75 L202.0,540.96 L203.0,541.17 L204.0,541.37 L205.0,541.58 L206.0,541.78 L207.0,541.98 L208.0,542.19 L209.0,542.39 L210.0,542.59 L211.0,542.80 L212.0,543.00 L213.0,543.20 L214.0,543.40 L215.0,543.60 L216.0,543.80 L217.0,544.00 L218.0,544.20 L219.0,544.39 L220.0,544.59 L221.0,544.79 L222.0,544.99 L223.0,545.18 L224.0,545.38 L225.0,545.57 L226.0,545.77 L227.0,545.96 L228.0,546.15 L229.0,546.35 L230.0,546.54 L231.0,546.73 L232.0,546.93 L233.0,547.12 L234.0,547.31 L235.0,547.50 L236.0,547.69 L237.0,547.88 L238.0,548.07 L239.0,548.26 L240.0,548.45 L241.0,548.63 L242.0,548.82 L243.0,549.01 L244.0,549.20 L245.0,549.38 L246.0,549.57 L247.0,549.76 L248.0,549.94 L249.0,550.13 L250.0,550.31 L251.0,550.50 L252.0,550.68 L253.0,550.86 L254.0,551.05 L255.0,551.23 L256.0,551.41 L257.0,551.60 L258.0,551.78 L259.0,551.96 L260.0,552.14 L261.0,552.32 L262.0,552.50 L263.0,552.68 L264.0,552.86 L265.0,553.04 L266.0,553.22 L267.0,553.40 L268.0,553.58 L269.0,553.76 L270.0,553.94 L271.0,554.11 L272.0,554.29 L273.0,554.47 L274.0,554.65 L275.0,554.82 L276.0,555.00 L277.0,555.18 L278.0,555.35 L279.0,555.53 L280.0,555.70 L281.0,555.88 L282.0,556.05 L283.0,556.23 L284.0,556.40 L285.0,556.58 L286.0,556.75 L287.0,556.93 L288.0,557.10 L289.0,557.27 L290.0,557.45 L291.0,557.62 L292.0,557.79 L293.0,557.96 L294.0,558.14 L295.0,558.31 L296.0,558.48 L297.0,558.65 L298.0,558.83 L299.0,559.00 L300.0,559.17 L301.0,559.34 L302.0,559.51 L303.0,559.69 L304.0,559.86 L305.0,560.03 L306.0,560.20 L307.0,560.37 L308.0,560.54 L309.0,560.71 L310.0,560.88 L311.0,561.06 L312.0,561.23 L313.0,561.40 L314.0,561.57 L315.0,561.74 L316.0,561.91 L317.0,562.08 L318.0,562.26 L319.0,562.43 L320.0,562.60 L321.0,562.77 L322.0,562.94 L323.0,563.11 L324.0,563.29 L325.0,563.46 L326.0,563.63 L327.0,563.80 L328.0,563.97 L329.0,564.15 L330.0,564.32 L331.0,564.49 L332.0,564.67 L333.0,564.84 L334.0,565.01 L335.0,565.19 L336.0,565.36 L337.0,565.53 L338.0,565.71 L339.0,565.88 L340.0,566.06 L341.0,566.23 L342.0,566.41 L343.0,566.59 L344.0,566.76 L345.0,566.94 L346.0,567.11 L347.0,567.29 L348.0,567.47 L349.0,567.65 L350.0,567.82 L351.0,568.00 L352.0,568.18 L353.0,568.36 L354.0,568.54 L355.0,568.72 L356.0,568.90 L357.0,569.08 L358.0,569.26 L359.0,569.44 L360.0,569.62 L361.0,569.81 L362.0,569.99 L363.0,570.17 L364.0,570.35 L365.0,570.54 L366.0,570.72 L367.0,570.91 L368.0,571.09 L369.0,571.28 L370.0,571.47 L371.0,571.65 L372.0,571.84 L373.0,572.03 L374.0,572.22 L375.0,572.41 L376.0,572.60 L377.0,572.79 L378.0,572.98 L379.0,573.17 L380.0,573.36 L381.0,573.56 L382.0,573.75 L383.0,573.94 L384.0,574.14 L385.0,574.33 L386.0,574.53 L387.0,574.73 L388.0,574.92 L389.0,575.12 L390.0,575.32 L391.0,575.52 L392.0,575.72 L393.0,575.92 L394.0,576.12 L395.0,576.32 L396.0,576.53 L397.0,576.73 L398.0,576.94 L399.0,577.14 L400.0,577.35 L401.0,577.55 L402.0,577.76 L403.0,577.97 L404.0,578.18 L405.0,578.39 L406.0,578.60 L407.0,578.81 L408.0,579.03 L409.0,579.24 L410.0,579.46 L411.0,579.67 L412.0,579.89 L413.0,580.11 L414.0,580.34 L415.0,580.56 L416.0,580.79 L417.0,581.02 L418.0,581.25 L419.0,581.49 L420.0,581.73 L421.0,581.97 L422.0,582.21 L423.0,582.46 L424.0,582.72 L425.0,582.97 L426.0,583.23 L427.0,583.50 L428.0,583.77 L429.0,584.04 L430.0,584.32 L431.0,584.60 L432.0,584.89 L433.0,585.18 L434.0,585.48 L435.0,585.78 L436.0,586.09 L437.0,586.41 L438.0,586.73 L439.0,587.05 L440.0,587.39 L441.0,587.73 L442.0,588.07 L443.0,588.43 L444.0,588.78 L445.0,589.15 L446.0,589.52 L447.0,589.90 L448.0,590.29 L449.0,590.68 L450.0,591.08 L451.0,591.49 L452.0,591.91 L453.0,592.33 L454.0,592.77 L455.0,593.20 L456.0,593.64 L457.0,594.08 L458.0,594.53 L459.0,594.99 L460.0,595.46 L461.0,595.94 L462.0,596.43 L463.0,596.93 L464.0,597.43 L465.0,597.93 L466.0,598.44 L467.0,598.95 L468.0,599.46 L469.0,599.97 L470.0,600.48 L471.0,600.99 L472.0,601.50 L473.0,602.01 L474.0,602.53 L475.0,603.05 L476.0,603.57 L477.0,604.09 L478.0,604.61 L479.0,605.13 L480.0,605.65 L481.0,606.17 L482.0,606.70 L483.0,607.22 L484.0,607.74 L485.0,608.26 L486.0,608.78 L487.0,609.30 L488.0,609.82 L489.0,610.34 L490.0,610.86 L491.0,611.39 L492.0,611.91 L493.0,612.43 L494.0,612.95 L495.0,613.47 L496.0,613.99 L497.0,614.51 L498.0,615.03 L499.0,615.55 L500.0,616.08 L501.0,616.60 L502.0,617.12 L503.0,617.64 L504.0,618.16 L505.0,618.68 L506.0,619.20 L507.0,619.72 L508.0,620.24 L509.0,620.77 L510.0,621.29 L511.0,621.81 L512.0,622.33 L513.0,622.85 L514.0,623.37 L515.0,623.89 L516.0,624.41 L517.0,624.93 L518.0,625.46 L519.0,625.98 L520.0,626.50 L521.0,627.02 L522.0,627.54 L523.0,628.06 L524.0,628.58 L525.0,629.10 L526.0,629.63 L527.0,630.15 L528.0,630.67 L529.0,631.19 L530.0,631.71 L531.0,632.23 L532.0,632.75 L533.0,633.27 L534.0,633.79 L535.0,634.32 L536.0,634.84 L537.0,635.36 L538.0,635.88 L539.0,636.40 L540.0,636.92 L541.0,637.44 L542.0,637.96 L543.0,638.48 L544.0,639.01 L545.0,639.53 L546.0,640.05 L547.0,640.57 L548.0,641.09 L549.0,641.61 L550.0,642.13 L551.0,642.65 L552.0,643.17 L553.0,643.70 L554.0,644.22 L555.0,644.74 L556.0,645.26 L557.0,645.78 L558.0,646.30 L559.0,646.82 L560.0,647.34 L561.0,647.86 L562.0,648.39 L563.0,648.91 L564.0,649.43 L565.0,649.95 L566.0,650.47 L567.0,650.99 L568.0,651.51 L569.0,652.03 L570.0,652.55 L571.0,653.08 L572.0,653.60 L573.0,654.12 L574.0,654.64 L575.0,655.16 L576.0,655.68 L577.0,656.20 L578.0,656.72 L579.0,657.25 L580.0,657.77 L581.0,658.29 L582.0,658.81 L583.0,659.33 L584.0,659.85 L585.0,660.37 L586.0,660.89 L587.0,661.41 L588.0,661.94 L589.0,662.46 L590.0,662.98 L591.0,663.50 L592.0,664.02 L593.0,664.54 L594.0,665.06 L595.0,665.58 L596.0,666.10 L597.0,666.63 L598.0,667.15 L599.0,667.67 L600.0,668.19 L601.0,668.71 L602.0,669.23 L603.0,669.75 L604.0,670.27 L605.0,670.79 L606.0,671.32 L607.0,671.84 L608.0,672.36 L609.0,672.88 L610.0,673.40 L611.0,673.92 L612.0,674.44 L613.0,674.96 L614.0,675.48 L614.4,675.69"/><path d="M74.0,592.31 L75.0,592.67 L76.0,593.03 L77.0,593.39 L78.0,593.74 L79.0,594.10 L80.0,594.45 L81.0,594.79 L82.0,595.13 L83.0,595.47 L84.0,595.81 L85.0,596.15 L86.0,596.48 L87.0,596.81 L88.0,597.13 L89.0,597.46 L90.0,597.78 L91.0,598.09 L92.0,598.41 L93.0,598.72 L94.0,599.03 L95.0,599.34 L96.0,599.64 L97.0,599.94 L98.0,600.24 L99.0,600.54 L100.0,600.83 L101.0,601.12 L102.0,601.41 L103.0,601.70 L104.0,601.98 L105.0,602.26 L106.0,602.54 L107.0,602.81 L108.0,603.09 L109.0,603.36 L110.0,603.63 L111.0,603.89 L112.0,604.16 L113.0,604.42 L114.0,604.67 L115.0,604.93 L116.0,605.18 L117.0,605.44 L118.0,605.69 L119.0,605.93 L120.0,606.18 L121.0,606.42 L122.0,606.66 L123.0,606.90 L124.0,607.13 L125.0,607.36 L126.0,607.59 L127.0,607.82 L128.0,608.05 L129.0,608.27 L130.0,608.50 L131.0,608.72 L132.0,608.93 L133.0,609.15 L134.0,609.36 L135.0,609.57 L136.0,609.78 L137.0,609.99 L138.0,610.20 L139.0,610.40 L140.0,610.60 L141.0,610.80 L142.0,611.00 L143.0,611.19 L144.0,611.39 L145.0,611.58 L146.0,611.77 L147.0,611.96 L148.0,612.14 L149.0,612.33 L150.0,612.51 L151.0,612.69 L152.0,612.87 L153.0,613.04 L154.0,613.22 L155.0,613.39 L156.0,613.56 L157.0,613.73 L158.0,613.90 L159.0,614.07 L160.0,614.23 L161.0,614.39 L162.0,614.56 L163.0,614.72 L164.0,614.87 L165.0,615.03 L166.0,615.18 L167.0,615.34 L168.0,615.49 L169.0,615.64 L170.0,615.79 L171.0,615.93 L172.0,616.08 L173.0,616.22 L174.0,616.36 L175.0,616.51 L176.0,616.65 L177.0,616.78 L178.0,616.92 L179.0,617.05 L180.0,617.19 L181.0,617.32 L182.0,617.45 L183.0,617.58 L184.0,617.71 L185.0,617.84 L186.0,617.96 L187.0,618.09 L188.0,618.21 L189.0,618.33 L190.0,618.45 L191.0,618.57 L192.0,618.69 L193.0,618.81 L194.0,618.92 L195.0,619.04 L196.0,619.15 L197.0,619.26 L198.0,619.38 L199.0,619.49 L200.0,619.60 L201.0,619.70 L202.0,619.81 L203.0,619.92 L204.0,620.02 L205.0,620.13 L206.0,620.23 L207.0,620.33 L208.0,620.43 L209.0,620.53 L210.0,620.63 L211.0,620.73 L212.0,620.83 L213.0,620.92 L214.0,621.02 L215.0,621.11 L216.0,621.21 L217.0,621.30 L218.0,621.39 L219.0,621.48 L220.0,621.58 L221.0,621.67 L222.0,621.75 L223.0,621.84 L224.0,621.93 L225.0,622.02 L226.0,622.10 L227.0,622.19 L228.0,622.28 L229.0,622.36 L230.0,622.44 L231.0,622.53 L232.0,622.61 L233.0,622.69 L234.0,622.77 L235.0,622.85 L236.0,622.93 L237.0,623.01 L238.0,623.09 L239.0,623.17 L240.0,623.25 L241.0,623.33 L242.0,623.41 L243.0,623.48 L244.0,623.56 L245.0,623.64 L246.0,623.71 L247.0,623.79 L248.0,623.86 L249.0,623.94 L250.0,624.01 L251.0,624.09 L252.0,624.16 L253.0,624.24 L254.0,624.31 L255.0,624.38 L256.0,624.46 L257.0,624.53 L258.0,624.60 L259.0,624.67 L260.0,624.75 L261.0,624.82 L262.0,624.89 L263.0,624.96 L264.0,625.03 L265.0,625.11 L266.0,625.18 L267.0,625.25 L268.0,625.32 L269.0,625.39 L270.0,625.46 L271.0,625.54 L272.0,625.61 L273.0,625.68 L274.0,625.75 L275.0,625.82 L276.0,625.89 L277.0,625.97 L278.0,626.04 L279.0,626.11 L280.0,626.18 L281.0,626.26 L282.0,626.33 L283.0,626.40 L284.0,626.47 L285.0,626.55 L286.0,626.62 L287.0,626.70 L288.0,626.77 L289.0,626.84 L290.0,626.92 L291.0,626.99 L292.0,627.07 L293.0,627.14 L294.0,627.22 L295.0,627.30 L296.0,627.37 L297.0,627.45 L298.0,627.53 L299.0,627.61 L300.0,627.69 L301.0,627.77 L302.0,627.85 L303.0,627.93 L304.0,628.01 L305.0,628.09 L306.0,628.18 L307.0,628.26 L308.0,628.34 L309.0,628.43 L310.0,628.51 L311.0,628.60 L312.0,628.69 L313.0,628.78 L314.0,628.87 L315.0,628.96 L316.0,629.05 L317.0,629.14 L318.0,629.23 L319.0,629.33 L320.0,629.42 L321.0,629.52 L322.0,629.61 L323.0,629.71 L324.0,629.81 L325.0,629.91 L326.0,630.01 L327.0,630.11 L328.0,630.21 L329.0,630.32 L330.0,630.42 L331.0,630.53 L332.0,630.64 L333.0,630.75 L334.0,630.86 L335.0,630.97 L336.0,631.08 L337.0,631.20 L338.0,631.31 L339.0,631.43 L340.0,631.55 L341.0,631.67 L342.0,631.79 L343.0,631.92 L344.0,632.04 L345.0,632.17 L346.0,632.29 L347.0,632.42 L348.0,632.55 L349.0,632.69 L350.0,632.82 L351.0,632.96 L352.0,633.09 L353.0,633.23 L354.0,633.37 L355.0,633.52 L356.0,633.66 L357.0,633.81 L358.0,633.96 L359.0,634.10 L360.0,634.26 L361.0,634.41 L362.0,634.57 L363.0,634.72 L364.0,634.88 L365.0,635.04 L366.0,635.21 L367.0,635.37 L368.0,635.54 L369.0,635.71 L370.0,635.88 L371.0,636.05 L372.0,636.23 L373.0,636.41 L374.0,636.59 L375.0,636.77 L376.0,636.95 L377.0,637.14 L378.0,637.33 L379.0,637.52 L380.0,637.71 L381.0,637.91 L382.0,638.10 L383.0,638.30 L384.0,638.51 L385.0,638.71 L386.0,638.92 L387.0,639.13 L388.0,639.34 L389.0,639.55 L390.0,639.77 L391.0,639.99 L392.0,640.21 L393.0,640.44 L394.0,640.67 L395.0,640.90 L396.0,641.13 L397.0,641.36 L398.0,641.60 L399.0,641.84 L400.0,642.09 L401.0,642.33 L402.0,642.58 L403.0,642.83 L404.0,643.09 L405.0,643.34 L406.0,643.60 L407.0,643.87 L408.0,644.13 L409.0,644.40 L410.0,644.67 L411.0,644.95 L412.0,645.22 L413.0,645.50 L414.0,645.79 L415.0,646.07 L416.0,646.36 L417.0,646.65 L418.0,646.94 L419.0,647.23 L420.0,647.53 L421.0,647.83 L422.0,648.13 L423.0,648.43 L424.0,648.74 L425.0,649.05 L426.0,649.36 L427.0,649.67 L428.0,649.98 L429.0,650.30 L430.0,650.62 L431.0,650.94 L432.0,651.26 L433.0,651.59 L434.0,651.91 L435.0,652.24 L436.0,652.57 L437.0,652.90 L438.0,653.24 L439.0,653.57 L440.0,653.91 L441.0,654.25 L442.0,654.59 L443.0,654.93 L444.0,655.27 L445.0,655.62 L446.0,655.96 L447.0,656.31 L448.0,656.66 L449.0,657.01 L450.0,657.36 L451.0,657.72 L452.0,658.07 L453.0,658.43 L454.0,658.78 L455.0,659.14 L456.0,659.50 L457.0,659.86 L458.0,660.22 L459.0,660.58 L460.0,660.95 L461.0,661.31 L462.0,661.68 L463.0,662.04 L464.0,662.41 L465.0,662.78 L466.0,663.14 L467.0,663.51 L468.0,663.88 L469.0,664.25 L470.0,664.62 L471.0,665.00 L472.0,665.37 L473.0,665.74 L474.0,666.11 L475.0,666.49 L476.0,666.86 L477.0,667.24 L478.0,667.61 L479.0,667.99 L480.0,668.36 L481.0,668.74 L482.0,669.11 L483.0,669.49 L484.0,669.86 L485.0,670.24 L486.0,670.62 L487.0,670.99 L488.0,671.37 L489.0,671.74 L490.0,672.12 L491.0,672.50 L492.0,672.87 L493.0,673.25 L494.0,673.62 L495.0,674.00 L496.0,674.37 L497.0,674.75 L498.0,675.12 L499.0,675.49 L500.0,675.87 L501.0,676.24 L502.0,676.61 L503.0,676.98 L504.0,677.35 L505.0,677.72 L506.0,678.09 L507.0,678.46 L508.0,678.83 L509.0,679.20 L510.0,679.57 L511.0,679.93 L512.0,680.30 L513.0,680.66 L514.0,681.02 L515.0,681.39 L516.0,681.75 L517.0,682.11 L518.0,682.47 L519.0,682.82 L520.0,683.18 L521.0,683.54 L522.0,683.89 L523.0,684.25 L524.0,684.60 L524.2,684.67"/>
</g>
<rect x="139.2" y="371.5" width="13.2" height="10" fill="#fff"/><rect x="117.2" y="418.0" width="13.0" height="10" fill="#fff"/><rect x="145.8" y="494.5" width="12.6" height="10" fill="#fff"/><rect x="108.4" y="515.5" width="12.9" height="10" fill="#fff"/><rect x="110.7" y="600.2" width="12.6" height="10" fill="#fff"/>
<g font-size="19.5" text-anchor="middle">
<text class="o" x="145.6" y="386.4">5</text><text class="o" x="122.6" y="430.8">4</text><text class="o" x="152.0" y="509.0">3</text><text class="o" x="114.7" y="526.5">2</text><text class="o" x="117.1" y="606.4">1</text>
</g>
<g font-size="20" text-anchor="end">
<text x="64" y="294.0">50</text><text x="64" y="375.2">40</text><text x="64" y="456.4">30</text><text x="64" y="537.6">20</text><text x="64" y="618.8">10</text>
</g>
<g font-size="19.5" text-anchor="middle">
<text x="134.3" y="720">10</text><text x="255.0" y="720">30</text><text x="375.7" y="720">50</text><text x="496.4" y="720">70</text><text x="617.0" y="720">90</text><text x="737.7" y="720">110</text><text x="855.6" y="720">130</text>
<text x="134.3" y="762">0,6</text><text x="255.0" y="762">1,8</text><text x="375.7" y="762">3,0</text><text x="496.4" y="762">4,2</text><text x="617.0" y="762">5,4</text><text x="737.7" y="762">6,6</text><text x="856.8" y="762">7,8</text>
</g>
<g font-size="19.5" font-style="italic">
<text x="32" y="253.6" textLength="31.5" lengthAdjust="spacingAndGlyphs">H, м</text>
<text x="898.6" y="720" textLength="67" lengthAdjust="spacingAndGlyphs">Q, л/мин</text>
<text x="898.6" y="762" textLength="32" lengthAdjust="spacingAndGlyphs">Q, м</text>
<text x="932.2" y="755" font-size="12.2" font-style="normal">3</text>
<text x="937" y="762" textLength="16" lengthAdjust="spacingAndGlyphs">/ч</text>
</g>
<rect x="808.4" y="364.5" width="122.4" height="141.8" fill="#fff" stroke="#fff" stroke-width="4"/>
<rect x="808.4" y="364.5" width="122.4" height="141.8" fill="#fff" stroke="#222" stroke-width="1.4"/>
<g font-size="16.5" class="lg">
<text x="828.5" y="398" class="o">1</text><text x="844" y="398" textLength="32.4" lengthAdjust="spacingAndGlyphs">CPM</text><text x="883.2" y="398" textLength="27" lengthAdjust="spacingAndGlyphs">130</text>
<text x="828.5" y="420" class="o">2</text><text x="844" y="420" textLength="32.4" lengthAdjust="spacingAndGlyphs">CPM</text><text x="883.2" y="420" textLength="27" lengthAdjust="spacingAndGlyphs">146</text>
<text x="828.5" y="442" class="o">3</text><text x="844" y="442" textLength="32.4" lengthAdjust="spacingAndGlyphs">CPM</text><text x="883.2" y="442" textLength="27" lengthAdjust="spacingAndGlyphs">158</text>
<text x="828.5" y="464" class="o">4</text><text x="844" y="464" textLength="32.4" lengthAdjust="spacingAndGlyphs">CPM</text><text x="883.2" y="464" textLength="27" lengthAdjust="spacingAndGlyphs">180</text>
<text x="828.5" y="486" class="o">5</text><text x="844" y="486" textLength="32.4" lengthAdjust="spacingAndGlyphs">CPM</text><text x="883.2" y="486" textLength="27" lengthAdjust="spacingAndGlyphs">200</text>
</g>
</svg>
</body></html>
